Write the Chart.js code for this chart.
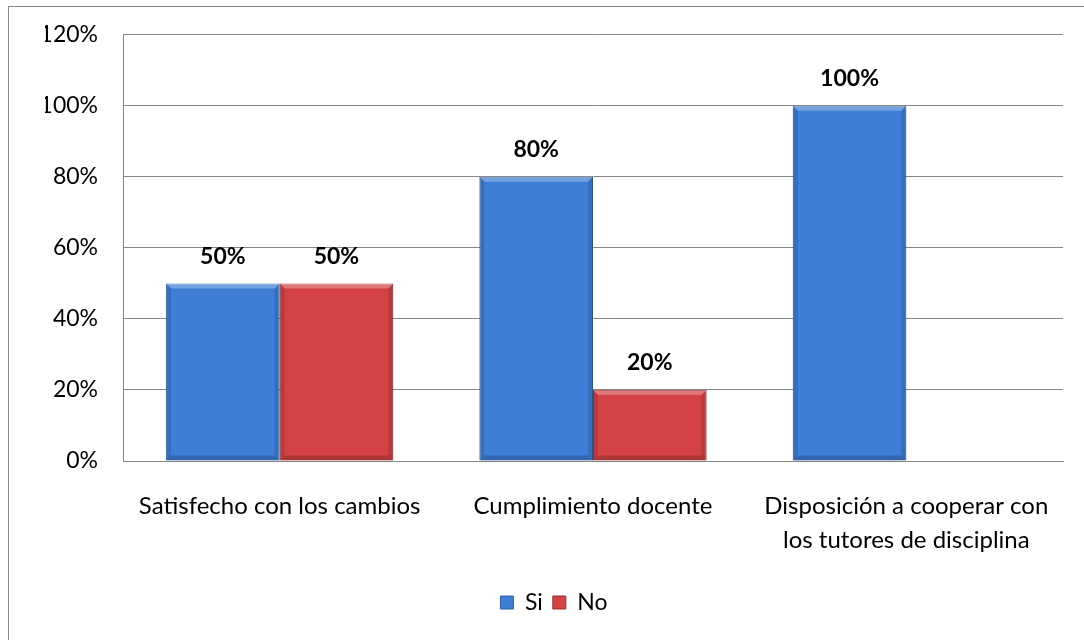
<!DOCTYPE html>
<html>
<head>
<meta charset="utf-8">
<script src="https://cdn.jsdelivr.net/npm/chart.js@4/dist/chart.umd.min.js"></script>
<style>
  html, body { margin: 0; padding: 0; background: #fff; overflow: hidden; }
  #frame {
    position: absolute; left: 8px; top: 6px;
    width: 1100px; height: 660px;
    border: 1px solid #888;
  }
  #wrap { position: absolute; left: 0; top: -11px; width: 1100px; height: 661px; }
</style>
</head>
<body>
<div id="frame"><div id="wrap"><canvas id="chart-area"></canvas></div></div>
<script>
var categories = [
  'Satisfecho con los cambios',
  'Cumplimiento docente',
  ['Disposición a cooperar con', 'los tutores de disciplina']
];
var siValues = [50, 80, 100];
var noValues = [50, 20, null];
var yTicks = [0, 20, 40, 60, 80, 100, 120];

var fontName = 'Lato, "Open Sans", sans-serif';

// value labels above each bar
var barLabels = {
  id: 'barLabels',
  afterDatasetsDraw: function(chart) {
    var ctx = chart.ctx;
    ctx.save();
    ctx.font = 'bold 23px ' + fontName;
    ctx.fillStyle = '#000';
    ctx.textAlign = 'center';
    ctx.textBaseline = 'middle';
    chart.data.datasets.forEach(function(ds, i) {
      chart.getDatasetMeta(i).data.forEach(function(bar, j) {
        if (ds.data[j] == null) return;
        ctx.fillText(ds.data[j] + '%', bar.x, bar.y - 27);
      });
    });
    ctx.restore();
  }
};

// simple bevel look on the bars
var bevel = {
  id: 'bevel',
  afterDatasetsDraw: function(chart) {
    var ctx = chart.ctx;
    ctx.save();
    chart.data.datasets.forEach(function(ds, i) {
      chart.getDatasetMeta(i).data.forEach(function(bar, j) {
        if (ds.data[j] == null) return;
        var l = bar.x - bar.width / 2, r = bar.x + bar.width / 2;
        var t = bar.y, b = bar.base;
        ctx.fillStyle = 'rgba(255,255,255,0.28)';
        ctx.beginPath();
        ctx.moveTo(l, t); ctx.lineTo(r, t); ctx.lineTo(r - 5, t + 5); ctx.lineTo(l + 5, t + 5);
        ctx.fill();
        ctx.fillStyle = 'rgba(0,0,0,0.18)';
        ctx.beginPath();
        ctx.moveTo(l, b); ctx.lineTo(r, b); ctx.lineTo(r - 5, b - 5); ctx.lineTo(l + 5, b - 5);
        ctx.fill();
        ctx.fillStyle = 'rgba(0,0,0,0.12)';
        ctx.beginPath();
        ctx.moveTo(r, t); ctx.lineTo(r, b); ctx.lineTo(r - 5, b - 5); ctx.lineTo(r - 5, t + 5);
        ctx.fill();
        ctx.beginPath();
        ctx.moveTo(l, t); ctx.lineTo(l, b); ctx.lineTo(l + 5, b - 5); ctx.lineTo(l + 5, t + 5);
        ctx.fill();
      });
    });
    ctx.restore();
  }
};

var config = {
  type: 'bar',
  data: {
    labels: categories,
    datasets: [{
      label: 'Si',
      data: siValues,
      backgroundColor: '#3d7ed6',
      borderColor: '#2e5f9f',
      borderWidth: 1
    }, {
      label: 'No',
      data: noValues,
      backgroundColor: '#d44244',
      borderColor: '#9c2f2f',
      borderWidth: 1
    }]
  },
  options: {
    responsive: true,
    maintainAspectRatio: false,
    animation: false,
    datasets: {
      bar: { categoryPercentage: 0.725, barPercentage: 1 }
    },
    layout: { padding: { left: 36, right: 46, top: 8, bottom: 33 } },
    scales: {
      x: {
        grid: { display: false, drawTicks: false },
        border: { color: '#868686', width: 1 },
        ticks: {
          color: '#000',
          padding: 28,
          maxRotation: 0,
          font: { family: fontName, size: 24, lineHeight: 1.42 }
        },
        afterFit: function(scale) { scale.height = 120; }
      },
      y: {
        min: 0,
        max: 120,
        afterBuildTicks: function(scale) {
          scale.ticks = yTicks.map(function(v) { return { value: v }; });
        },
        grid: { color: '#868686', drawTicks: false },
        border: { color: '#868686', width: 1 },
        ticks: {
          color: '#000',
          padding: 25,
          font: { family: fontName, size: 23 },
          callback: function(v) { return v + '%'; }
        },
        afterFit: function(scale) { scale.width = 78; }
      }
    },
    plugins: {
      legend: {
        position: 'bottom',
        labels: {
          color: '#000',
          boxWidth: 13,
          boxHeight: 13,
          padding: 10,
          font: { family: fontName, size: 23 }
        }
      },
      tooltip: { enabled: false }
    }
  },
  plugins: [bevel, barLabels]
};

window.onload = function() {
  var ctx = document.getElementById('chart-area').getContext('2d');
  window.myBar = new Chart(ctx, config);
};
</script>
</body>
</html>
